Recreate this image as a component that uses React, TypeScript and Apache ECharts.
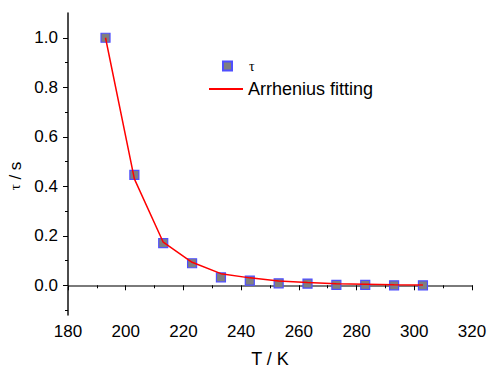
import React, { useEffect, useRef } from "react";
import * as echarts from "echarts";

const temps = [193, 203, 213, 223, 233, 243, 253, 263, 273, 283, 293, 303];
const tau = [1.0, 0.446, 0.17, 0.089, 0.032, 0.019, 0.008, 0.007, 0.002, 0.002, 0.0, 0.0];
const fit = [1.0, 0.43, 0.174, 0.093, 0.047, 0.03, 0.017, 0.011, 0.006, 0.004, 0.002, 0.001];
const yMajor = [0, 0.2, 0.4, 0.6, 0.8, 1.0];
const yMinor = [-0.1, 0.1, 0.3, 0.5, 0.7, 0.9];

const FONT = "Liberation Sans, Arial, sans-serif";

export default function App() {
  const ref = useRef<HTMLDivElement>(null);
  useEffect(() => {
    if (!ref.current) return;
    const chart = echarts.init(ref.current, undefined, { renderer: "svg" });
    chart.setOption({
      animation: false,
      backgroundColor: "#ffffff",
      grid: { left: 68, right: 16, top: 13, bottom: 53, containLabel: false, outerBoundsMode: "none" },
      legend: [
        {
          data: [{ name: "τ", icon: "rect" }],
          left: 222,
          top: 59,
          padding: 0,
          itemWidth: 9,
          itemHeight: 9,
          textStyle: {
            fontFamily: "Liberation Serif, serif",
            fontSize: 14,
            color: "#000",
            padding: [0, 0, 0, 12],
          },
        },
        {
          data: [{ name: "Arrhenius fitting", icon: "rect" }],
          left: 209,
          top: 80,
          padding: 0,
          itemWidth: 34,
          itemHeight: 2,
          textStyle: { fontFamily: FONT, fontSize: 18, color: "#000" },
        },
      ],
      xAxis: {
        type: "value",
        min: 180,
        max: 320,
        interval: 20,
        name: "T / K",
        nameLocation: "middle",
        nameGap: 35,
        nameTextStyle: { fontFamily: FONT, fontSize: 18, color: "#000" },
        axisLine: { show: true, lineStyle: { color: "#7a7a7a", width: 2 } },
        axisTick: { show: true, inside: false, length: 5, lineStyle: { color: "#000", width: 1 } },
        minorTick: { show: true, splitNumber: 2, length: 3, lineStyle: { color: "#000", width: 1 } },
        axisLabel: { fontFamily: FONT, fontSize: 17, color: "#000", margin: 8 },
        splitLine: { show: false },
      },
      yAxis: [
        {
          type: "value",
          min: -0.12,
          max: 1.1,
          axisLine: { show: true, lineStyle: { color: "#111", width: 1.5 } },
          axisTick: {
            show: true,
            length: 5,
            customValues: yMajor,
            lineStyle: { color: "#000", width: 1 },
          },
          axisLabel: {
            fontFamily: FONT,
            fontSize: 17,
            color: "#000",
            margin: 10,
            customValues: yMajor,
            formatter: (v: number) => v.toFixed(1),
          },
          splitLine: { show: false },
        },
        {
          type: "value",
          min: -0.12,
          max: 1.1,
          position: "left",
          axisLine: { show: false },
          axisTick: {
            show: true,
            length: 3,
            customValues: yMinor,
            lineStyle: { color: "#000", width: 1 },
          },
          axisLabel: { show: false },
          splitLine: { show: false },
        },
      ],
      graphic: [
        {
          type: "text",
          x: 15,
          y: 176,
          rotation: Math.PI / 2,
          style: {
            text: "{t|τ} / s",
            fontFamily: FONT,
            fontSize: 17,
            fill: "#000",
            align: "center",
            verticalAlign: "middle",
            rich: {
              t: { fontFamily: "Liberation Serif, serif", fontSize: 15, fill: "#000" },
            },
          },
        },
      ],
      series: [
        {
          name: "τ",
          type: "scatter",
          data: temps.map((t, i) => [t, tau[i]]),
          symbol: "rect",
          symbolSize: 9,
          itemStyle: { color: "#7f7f7f", borderColor: "#4f4fff", borderWidth: 1.2, opacity: 1 },
          z: 2,
        },
        {
          name: "Arrhenius fitting",
          type: "line",
          data: temps.map((t, i) => [t, fit[i]]),
          symbol: "none",
          showSymbol: false,
          lineStyle: { color: "#ff0000", width: 1.5 },
          itemStyle: { color: "#ff0000" },
          z: 3,
        },
      ],
    });
    return () => chart.dispose();
  }, []);
  return <div ref={ref} style={{ width: 488, height: 368, position: "absolute", left: 0, top: 0 }} />;
}
